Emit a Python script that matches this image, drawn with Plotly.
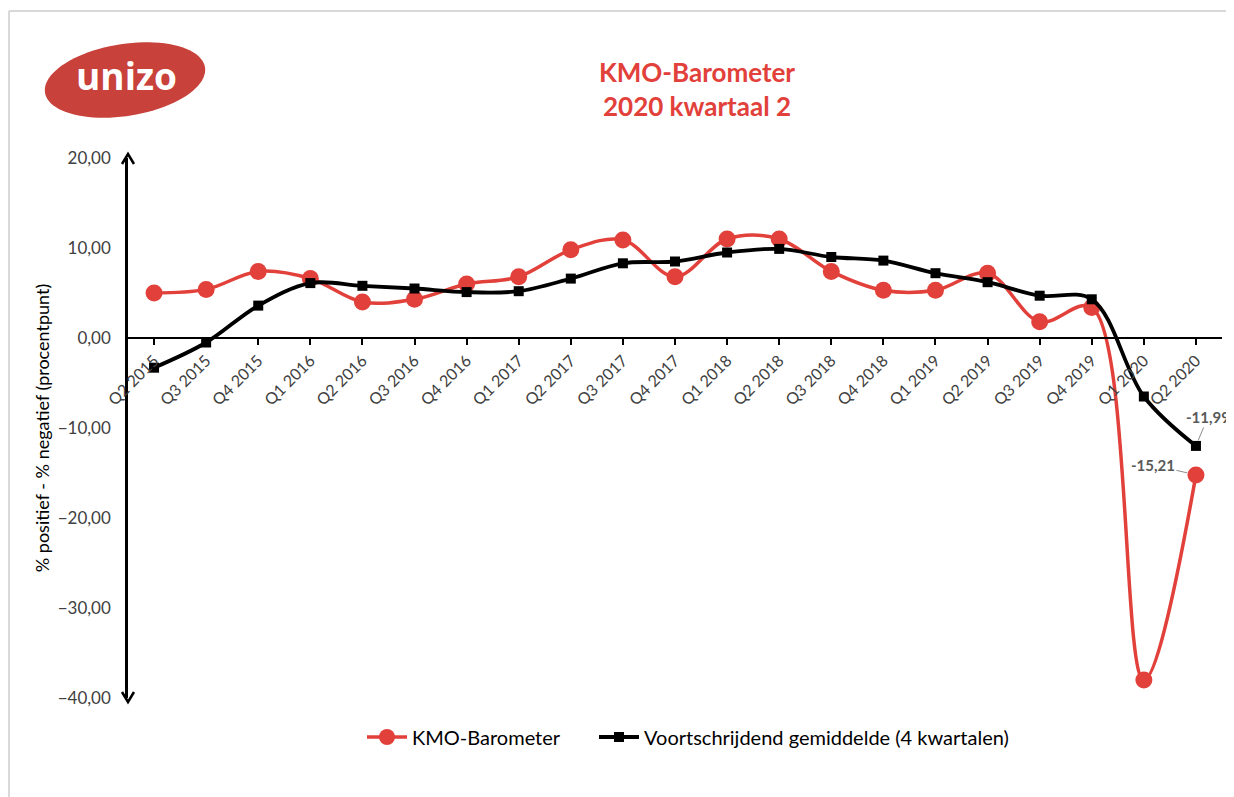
import numpy as np
import plotly.graph_objects as go

categories = ["Q2 2015", "Q3 2015", "Q4 2015", "Q1 2016", "Q2 2016", "Q3 2016", "Q4 2016",
              "Q1 2017", "Q2 2017", "Q3 2017", "Q4 2017", "Q1 2018", "Q2 2018", "Q3 2018",
              "Q4 2018", "Q1 2019", "Q2 2019", "Q3 2019", "Q4 2019", "Q1 2020", "Q2 2020"]
kmo_barometer = [5.0, 5.4, 7.4, 6.6, 4.0, 4.3, 6.0, 6.8, 9.8, 10.9, 6.8, 11.0, 11.0, 7.4,
                 5.3, 5.3, 7.2, 1.8, 3.4, -38.0, -15.21]
moving_avg = [-3.3, -0.5, 3.6, 6.1, 5.8, 5.5, 5.1, 5.2, 6.6, 8.3, 8.5, 9.5, 9.9, 9.0,
              8.6, 7.2, 6.2, 4.7, 4.3, -6.5, -11.99]
y_ticks = [20, 10, 0, -10, -20, -30, -40]

RED = "#E2403A"
LOGO_RED = "#C8413A"
FONT = "Lato"

# page has an 8px body margin; plot area in page pixels: x 128..1222, y 158..698
W, H = 1226, 789
PL, PR, PT, PB = 128, 1222, 158, 698


def xp(px):
    return (px - PL) / (PR - PL)


def yp(py):
    return (PB - py) / (PB - PT)


x_idx = list(range(len(categories)))

fig = go.Figure()
fig.add_trace(go.Scatter(
    x=x_idx, y=kmo_barometer, name="KMO-Barometer", mode="lines+markers",
    line=dict(color=RED, width=3.5, shape="spline", smoothing=1.0),
    marker=dict(symbol="circle", size=17, color=RED),
    legend="legend",
))
fig.add_trace(go.Scatter(
    x=x_idx, y=moving_avg, name="Voortschrijdend gemiddelde (4 kwartalen)", mode="lines+markers",
    line=dict(color="black", width=3.8, shape="spline", smoothing=1.0),
    marker=dict(symbol="square", size=10, color="black"),
    legend="legend2",
))

# data labels for last points
fig.add_annotation(x=x_idx[-1], y=moving_avg[-1],
                   text="<b>" + ("%.2f" % moving_avg[-1]).replace(".", ",") + "</b>",
                   xref="x", yref="y", ax=12, ay=-29, showarrow=True, arrowhead=0,
                   arrowcolor="#8C8C8C", arrowwidth=1, standoff=6,
                   font=dict(family=FONT, size=15, color="#595959"))
fig.add_annotation(x=x_idx[-1], y=kmo_barometer[-1],
                   text="<b>" + ("%.2f" % kmo_barometer[-1]).replace(".", ",") + "</b>",
                   xref="x", yref="y", ax=-43, ay=-10, showarrow=True, arrowhead=0,
                   arrowcolor="#8C8C8C", arrowwidth=1, standoff=9,
                   font=dict(family=FONT, size=15, color="#595959"))

# Y axis arrows (open chevrons)
fig.add_shape(type="path", xref="paper", yref="paper", xsizemode="pixel", ysizemode="pixel",
              xanchor=0, yanchor=1, path="M -6,-6 L 0,4 L 6,-6",
              line=dict(color="black", width=2.5))
fig.add_shape(type="path", xref="paper", yref="paper", xsizemode="pixel", ysizemode="pixel",
              xanchor=0, yanchor=0, path="M -6,6 L 0,-4 L 6,6",
              line=dict(color="black", width=2.5))

# chart border (light gray)
fig.add_shape(type="line", xref="paper", yref="paper", x0=xp(9), x1=xp(9),
              y0=yp(800), y1=yp(11), line=dict(color="#D9D9D9", width=2))
fig.add_shape(type="line", xref="paper", yref="paper", x0=xp(9), x1=xp(1234),
              y0=yp(11), y1=yp(11), line=dict(color="#D9D9D9", width=2))

# logo: tilted ellipse
t = np.linspace(0, 2 * np.pi, 90)
cx, cy, a, b, ang = 125, 80, 81, 36, np.deg2rad(-9)
ex = cx + a * np.cos(t) * np.cos(ang) - b * np.sin(t) * np.sin(ang)
ey = cy + a * np.cos(t) * np.sin(ang) + b * np.sin(t) * np.cos(ang)
path = "M " + " L ".join(f"{xp(u):.5f},{yp(v):.5f}" for u, v in zip(ex, ey)) + " Z"
fig.add_shape(type="path", xref="paper", yref="paper", path=path,
              fillcolor=LOGO_RED, line=dict(color=LOGO_RED, width=0))
fig.add_annotation(x=xp(126), y=yp(76), xref="paper", yref="paper",
                   xanchor="center", yanchor="middle",
                   text="<b>unizo</b>", showarrow=False,
                   font=dict(family="Open Sans", size=37, color="white"))

legend_common = dict(orientation="h", xanchor="left", yanchor="middle", y=yp(737),
                     font=dict(family=FONT, size=20, color="black"), itemwidth=40,
                     bgcolor="rgba(0,0,0,0)")

fig.update_layout(
    width=W, height=H,
    margin=dict(l=PL - 8, r=W - (PR - 8), t=PT - 8, b=H - (PB - 8), pad=0),
    paper_bgcolor="white", plot_bgcolor="white",
    separators=",.",
    font=dict(family=FONT, size=15, color="#404040"),
    title=dict(text="<b>KMO-Barometer</b><br><b>2020 kwartaal 2</b>",
               x=xp(697), xref="paper", xanchor="center",
               y=1 - (82 - 8) / H, yanchor="middle",
               font=dict(family=FONT, size=26, color=RED)),
    showlegend=True,
    legend=dict(x=xp(362), **legend_common),
    legend2=dict(x=xp(594), **legend_common),
    xaxis=dict(
        range=[-0.5, len(categories) - 0.5],
        tickmode="array", tickvals=x_idx, ticktext=categories,
        tickangle=-45, tickson="boundaries", ticks="outside", ticklen=6,
        tickcolor="black", tickwidth=2,
        showline=True, linecolor="black", linewidth=2,
        showgrid=False, zeroline=False,
        anchor="free", position=40 / 60,
        tickfont=dict(family=FONT, size=16, color="#404040"),
    ),
    yaxis=dict(
        range=[-40, 20], tickvals=y_ticks, tickformat=".2f",
        showline=True, linecolor="black", linewidth=2.5,
        showgrid=False, zeroline=False, ticks="",
        ticklabelstandoff=11,
        tickfont=dict(family=FONT, size=17, color="#404040"),
        title=dict(text="% positief - % negatief (procentpunt)", standoff=4,
                   font=dict(family=FONT, size=18, color="black")),
    ),
)

fig.write_html("out.html")
